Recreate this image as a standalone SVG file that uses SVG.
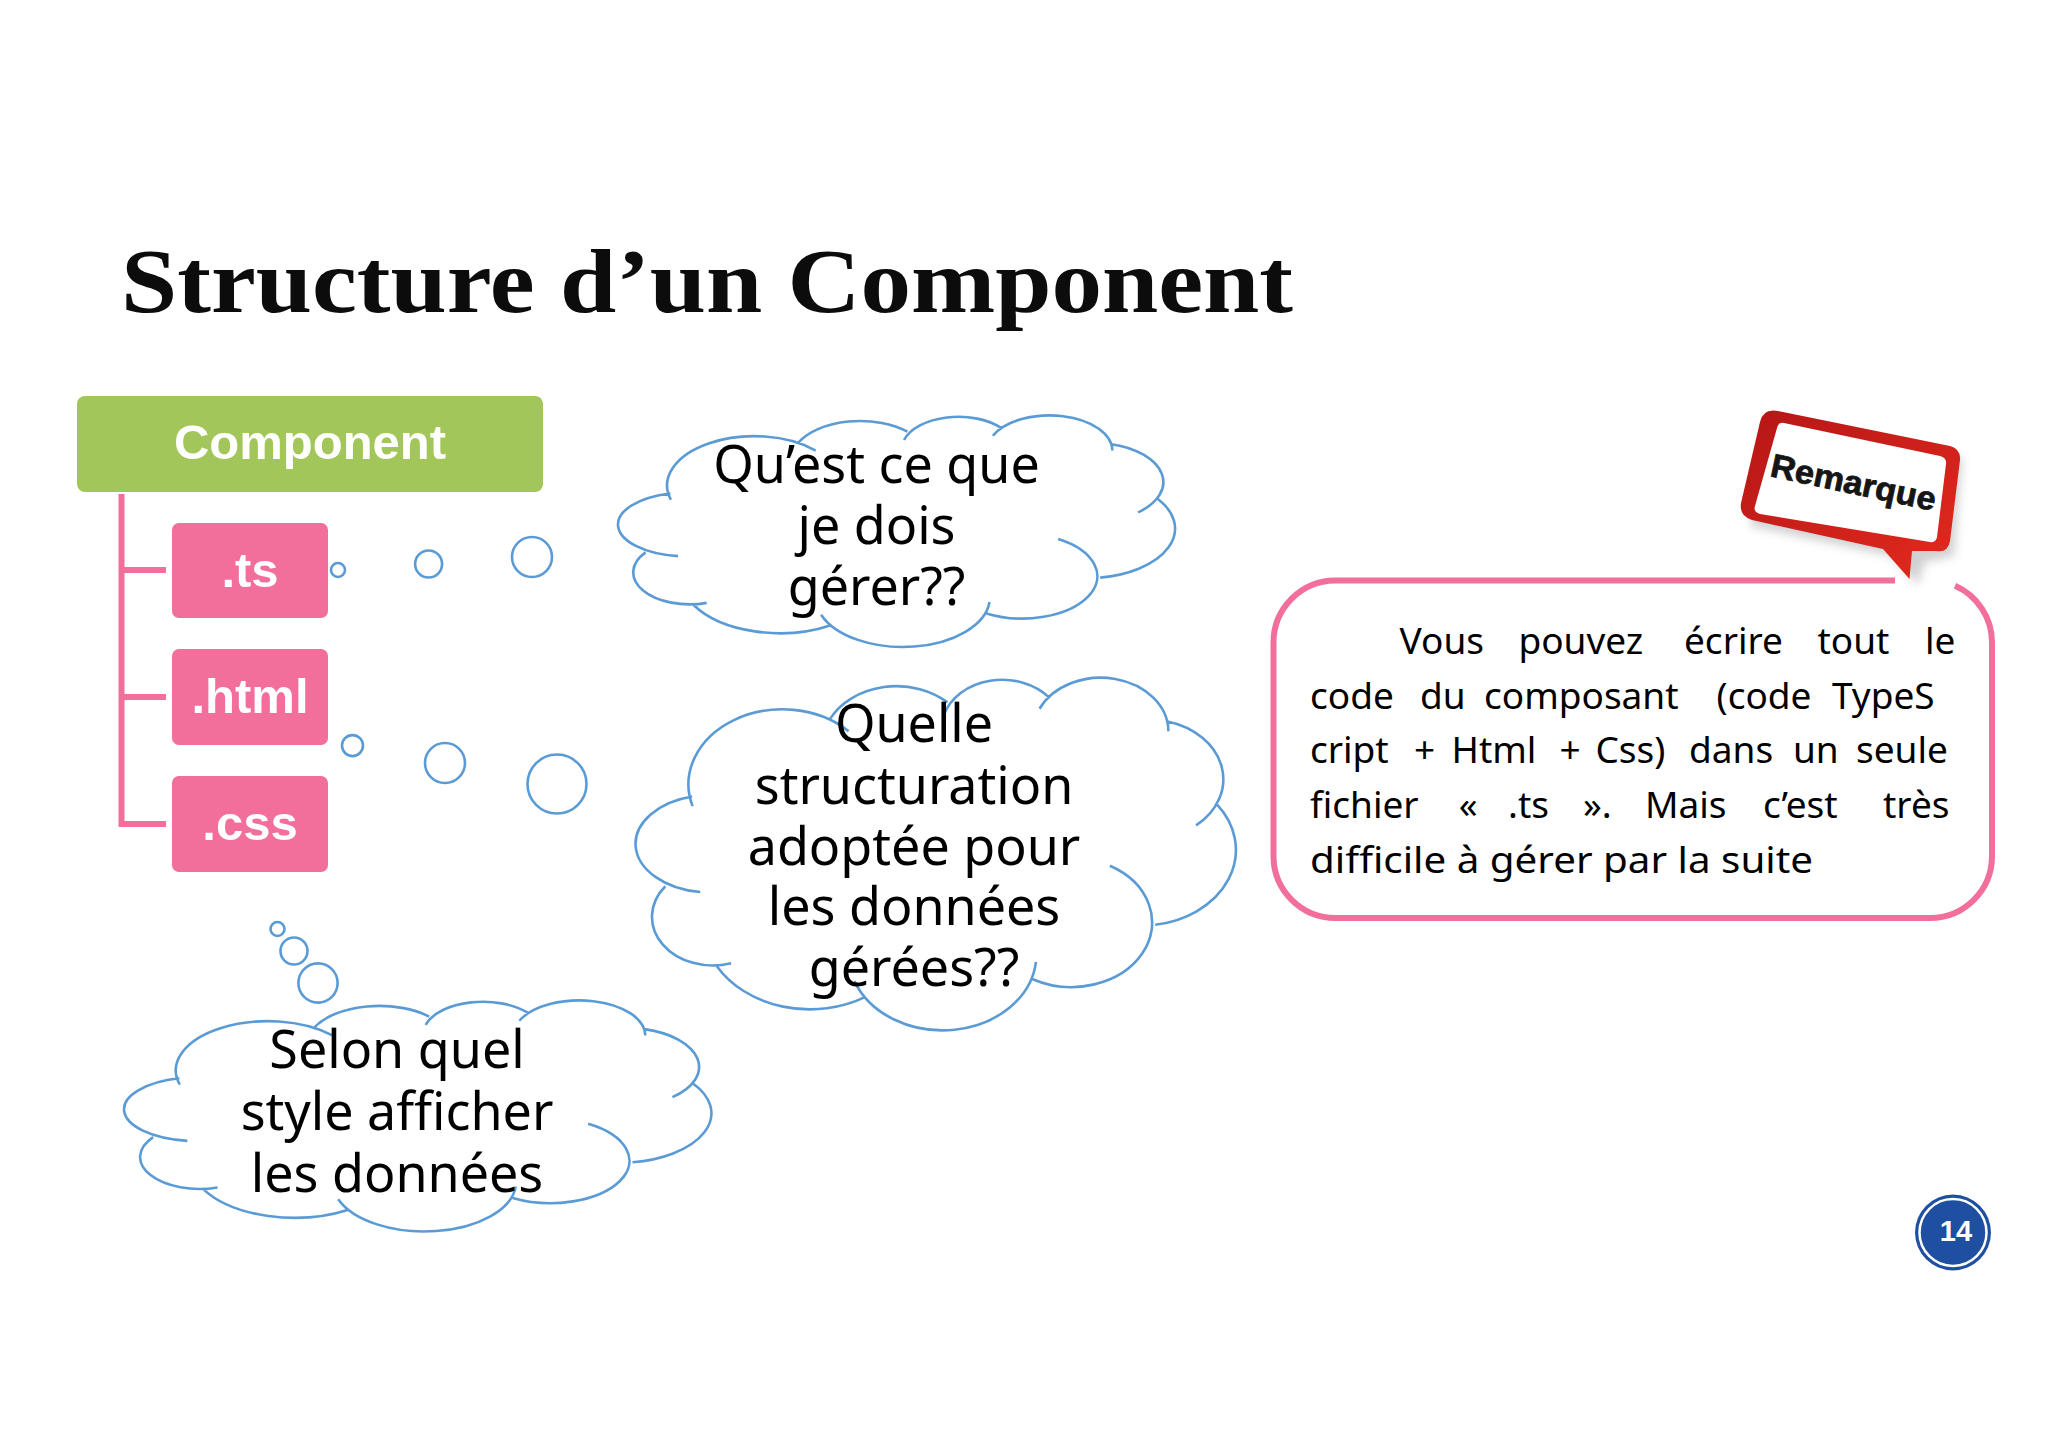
<svg xmlns="http://www.w3.org/2000/svg" width="2048" height="1447" viewBox="0 0 2048 1447">
<style>
.cloud{fill:none;stroke:#5b9bd5;stroke-width:2.6;vector-effect:non-scaling-stroke}
.bub{fill:none;stroke:#5b9bd5;stroke-width:2.6}
.ct{font-family:"Noto Sans","Open Sans",sans-serif;font-size:52px;fill:#000;text-anchor:middle}
.box{font-family:"Liberation Sans",Arial,sans-serif;font-weight:bold;font-size:49px;fill:#fff;text-anchor:middle}
.pk{fill:#f26e9b}
.tx{font-family:"Noto Sans","Open Sans",sans-serif;font-size:37px;fill:#000}
.tree{fill:none;stroke:#f26e9b;stroke-width:6}
</style>
<defs>
<path id="cloudshape" class="cloud" d="M128,199 A207,117 0 0 1 472,82 M432,62 A164,93 0 0 1 690,37 M682,57 A134,76 0 0 1 915,30 M893,47 A149,84 0 0 1 1177,82 M1175,67 A164,93 0 0 1 1238,229 M1285,197 A208,118 0 0 1 1148,384 M1048,292 A177,100 0 0 1 878,469 M885,442 A207,118 0 0 1 485,472 M508,497 A237,135 0 0 1 182,449 M213,444 A134,76 0 0 1 68,324 M145,333 A165,76 0 0 1 127,184"/>
<linearGradient id="red" x1="0" y1="0" x2="1" y2="1"><stop offset="0" stop-color="#b51616"/><stop offset="1" stop-color="#e42a1e"/></linearGradient>
<filter id="sh" x="-20%" y="-20%" width="140%" height="140%"><feGaussianBlur stdDeviation="5"/></filter>
</defs>
<rect width="2048" height="1447" fill="#fff"/>
<text id="title" x="121" y="312" font-family="'Liberation Serif','Times New Roman',serif" font-weight="bold" font-size="91" textLength="1172" lengthAdjust="spacingAndGlyphs" fill="#0c0c0c">Structure d’un Component</text>
<g id="connectors">
<path class="tree" d="M121.5,494 V824 H166 M121.5,570 H166 M121.5,697 H166"/>
</g>
<g id="node-component"><rect x="77" y="396" width="466" height="96" rx="8" fill="#a2c65a"/><text class="box" x="310" y="459">Component</text></g>
<g id="node-ts"><rect class="pk" x="172" y="523" width="156" height="95" rx="7"/><text class="box" x="250" y="587">.ts</text></g>
<g id="node-html"><rect class="pk" x="172" y="649" width="156" height="96" rx="7"/><text class="box" x="250" y="713">.html</text></g>
<g id="node-css"><rect class="pk" x="172" y="776" width="156" height="96" rx="7"/><text class="box" x="250" y="840">.css</text></g>
<g id="bubbles-1"><circle class="bub" cx="338" cy="570" r="7"/><circle class="bub" cx="428.6" cy="564" r="13.5"/><circle class="bub" cx="532" cy="557" r="20"/></g>
<g id="bubbles-2"><circle class="bub" cx="352.5" cy="745.6" r="10.5"/><circle class="bub" cx="445" cy="763" r="20"/><circle class="bub" cx="557" cy="784" r="29.5"/></g>
<g id="bubbles-3"><circle class="bub" cx="277.5" cy="929" r="7"/><circle class="bub" cx="294" cy="951" r="13.5"/><circle class="bub" cx="318" cy="983" r="19.6"/></g>
<g id="cloud-1"><use href="#cloudshape" transform="translate(617,416) scale(.4209)"/>
<text class="ct" x="876.5" y="483">Qu’est ce que</text><text class="ct" x="876.5" y="544">je dois</text><text class="ct" x="876.5" y="605">gérer??</text></g>
<g id="cloud-2"><use href="#cloudshape" transform="translate(634.5,678.6) scale(.4536,.641)"/>
<text class="ct" x="914" y="742">Quelle</text><text class="ct" x="914" y="804">structuration</text><text class="ct" x="914" y="865">adoptée pour</text><text class="ct" x="914" y="925">les données</text><text class="ct" x="914" y="986">gérées??</text></g>
<g id="cloud-3"><use href="#cloudshape" transform="translate(123,1001) scale(.4438,.42)"/>
<text class="ct" x="397" y="1068">Selon quel</text><text class="ct" x="397" y="1130">style afficher</text><text class="ct" x="397" y="1192">les données</text></g>
<g id="note">
<path d="M1895,580.5 H1335 A62,62 0 0 0 1273.5,642.5 V856 A62,62 0 0 0 1335.5,918 H1930 A62,62 0 0 0 1992,856 V642.5 A62,62 0 0 0 1955,585.8" fill="none" stroke="#f26e9b" stroke-width="6"/>
<text class="tx" y="654"><tspan x="1399.6">Vous </tspan><tspan x="1518.4">pouvez </tspan><tspan x="1684">écrire </tspan><tspan x="1817.4">tout </tspan><tspan x="1925">le</tspan></text>
<text class="tx" y="708.6"><tspan x="1310">code </tspan><tspan x="1420">du </tspan><tspan x="1484">composant </tspan><tspan x="1716.6">(code </tspan><tspan x="1832">TypeS</tspan></text>
<text class="tx" y="763"><tspan x="1310">cript </tspan><tspan x="1414">+ </tspan><tspan x="1451.5">Html </tspan><tspan x="1559.6">+ </tspan><tspan x="1595.4">Css) </tspan><tspan x="1689">dans </tspan><tspan x="1793">un </tspan><tspan x="1856">seule</tspan></text>
<text class="tx" y="818"><tspan x="1310">fichier </tspan><tspan x="1458.7">« </tspan><tspan x="1508">.ts </tspan><tspan x="1583">». </tspan><tspan x="1645">Mais </tspan><tspan x="1763">c’est </tspan><tspan x="1883">très</tspan></text>
<text class="tx" x="1310" y="873" textLength="503" lengthAdjust="spacingAndGlyphs">difficile à gérer par la suite</text>
</g>
<g id="remarque">
<path d="M1772,420 L1962,458 L1954,556 L1925,562 L1918,585 L1892,556 L1750,526 Z" fill="#999" opacity=".45" filter="url(#sh)"/>
<path fill="url(#red)" d="M1778,411 L1950,446 Q1961,449 1960,460 L1950,541 Q1948,553 1936,551 L1912,551 L1909.5,579 L1883,549 L1752,520 Q1739,516 1741,503 L1760,422 Q1763,408 1778,411 Z"/>
<path fill="#fff" d="M1784,423 L1940,456 Q1947,458 1946,464 L1937,537 Q1936,543 1930,542 L1760,514 Q1753,512 1755,506 L1777,428 Q1778,422 1784,423 Z"/>
<text x="1769" y="476" transform="rotate(12 1769 476)" font-family="'Liberation Sans',Arial,sans-serif" font-weight="bold" font-size="33" textLength="168" lengthAdjust="spacingAndGlyphs" fill="#151515" stroke="#151515" stroke-width=".8">Remarque</text>
</g>
<g id="page-number">
<circle cx="1953" cy="1232.5" r="38" fill="#1f4fa0"/><circle cx="1953" cy="1232.5" r="33.5" fill="none" stroke="#fff" stroke-width="2.5"/>
<text x="1956" y="1241" text-anchor="middle" font-family="'Liberation Sans',Arial,sans-serif" font-weight="bold" font-size="29" fill="#fff">14</text>
</g>
</svg>
